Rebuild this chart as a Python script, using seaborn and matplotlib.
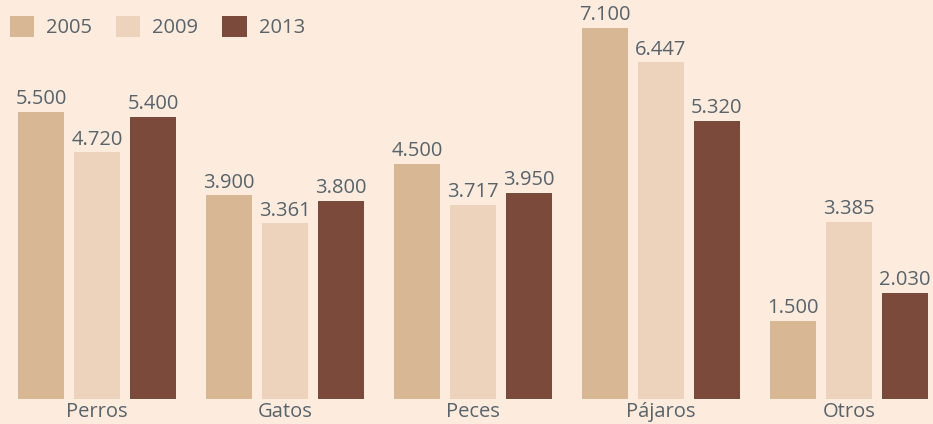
import pandas as pd
import seaborn as sns
import matplotlib.pyplot as plt

# Data
categories = ["Perros", "Gatos", "Peces", "Pájaros", "Otros"]
years = ["2005", "2009", "2013"]
values_2005 = [5500, 3900, 4500, 7100, 1500]
values_2009 = [4720, 3361, 3717, 6447, 3385]
values_2013 = [5400, 3800, 3950, 5320, 2030]

bg = "#FDEBDD"
text_color = "#58636A"
palette = ["#D8B794", "#EDD3BC", "#7B4A3B"]

df = pd.DataFrame({
    "categoria": categories * 3,
    "anio": [y for y in years for _ in categories],
    "valor": values_2005 + values_2009 + values_2013,
})

sns.set_style("white")
plt.rcParams["font.family"] = ["Open Sans", "DejaVu Sans"]

fig = plt.figure(figsize=(9.33, 4.24), dpi=100, facecolor=bg)
ax = fig.add_axes([0, 25 / 424, 1, 399 / 424])
ax.set_facecolor(bg)

sns.barplot(data=df, x="categoria", y="valor", hue="anio", order=categories,
            hue_order=years, palette=palette, width=0.894, gap=0.18,
            saturation=1, linewidth=0, ax=ax)

for cont in ax.containers:
    labels = [f"{v:,.0f}".replace(",", ".") for v in cont.datavalues]
    ax.bar_label(cont, labels=labels, padding=2, fontsize=14.5, color=text_color)

ax.set_xlim(-0.516, 4.447)
ax.set_ylim(0, 7640)
ax.set_xlabel("")
ax.set_ylabel("")
ax.set_yticks([])
ax.tick_params(axis="x", length=0, pad=2, labelsize=14.5, labelcolor=text_color)
for s in ax.spines.values():
    s.set_visible(False)

leg = ax.legend(loc="upper left", bbox_to_anchor=(-0.007, 1), bbox_transform=fig.transFigure,
                ncol=3, frameon=False, fontsize=14.5, handlelength=1.2, handleheight=1.2,
                columnspacing=1.2, handletextpad=0.6, borderaxespad=0.6, borderpad=0.2)
for t in leg.get_texts():
    t.set_color(text_color)

fig.savefig("out.png", dpi=100, facecolor=bg)
